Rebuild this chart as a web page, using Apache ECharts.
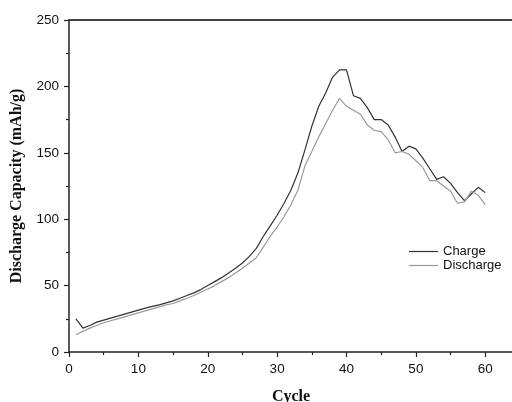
<!DOCTYPE html>
<html>
<head>
<meta charset="utf-8">
<script src="https://cdn.jsdelivr.net/npm/echarts@6/dist/echarts.min.js"></script>
<style>html,body{margin:0;padding:0;background:#fff}#c{width:512px;height:402px}</style>
</head>
<body>
<div id="c"></div>
<script>
var cycles = [];
for (var i = 1; i <= 60; i++) cycles.push(i);
var charge = [25, 18, 20, 22.5, 24, 25.5, 27, 28.5, 30, 31.5,
  33, 34.3, 35.5, 37, 38.5, 40.5, 42.5, 44.5, 47, 50,
  53, 56, 59.5, 63, 67, 72, 78, 87, 95, 103,
  112, 122, 135, 152, 170, 185, 195, 207, 212.5, 212.5,
  193, 191, 184, 175, 175, 171, 162, 151, 155, 153,
  146, 138, 130, 132, 127, 120, 114, 119, 124, 120];
var discharge = [13, 15.5, 18, 20, 22, 23.5, 25, 26.5, 28, 29.5,
  31, 32.5, 34, 35.5, 36.5, 38.5, 40.5, 42.5, 45, 47.5,
  50, 53, 56, 59.5, 63, 67, 71, 79, 87, 94,
  102, 111, 122, 140, 151, 162, 172, 182, 191, 185,
  182, 179, 171, 167, 166, 160, 150, 151, 149, 144,
  139, 129, 129, 125, 121, 112, 113, 121, 118, 111];
var seriesNames = ['Charge', 'Discharge'];
var xTitle = 'Cycle';
var yTitle = 'Discharge Capacity (mAh/g)';

function pairs(arr) { return arr.map(function (v, i) { return [cycles[i], v]; }); }

var chart = echarts.init(document.getElementById('c'), null, {renderer: 'canvas'});
var axisLineStyle = {color: '#222', width: 1.5};
chart.setOption({
  animation: false,
  backgroundColor: '#fff',
  grid: {left: 69, top: 20, right: -1, bottom: 50, containLabel: false, outerBoundsMode: 'none'},
  legend: {
    orient: 'vertical', left: 404, top: 240,
    icon: 'rect', itemWidth: 29, itemHeight: 1.2, itemGap: 1,
    textStyle: {fontFamily: 'Liberation Sans', fontSize: 13, color: '#111'},
    data: seriesNames
  },
  xAxis: [{
    type: 'value', min: 0, max: 64, interval: 10,
    name: xTitle, nameLocation: 'middle', nameGap: 37,
    nameTextStyle: {fontFamily: 'Liberation Serif', fontWeight: 'bold', fontSize: 16, color: '#111'},
    axisLine: {show: true, onZero: false, lineStyle: axisLineStyle},
    axisTick: {show: true, inside: false, length: 5, lineStyle: {color: '#222', width: 1.2}},
    minorTick: {show: true, splitNumber: 2, length: 3, lineStyle: {color: '#222', width: 1.2}},
    axisLabel: {fontFamily: 'Liberation Sans', fontSize: 13.5, color: '#111', margin: 10,
      showMaxLabel: false,
      formatter: function (v) { return v % 10 === 0 ? String(v) : ''; }},
    splitLine: {show: false}
  }, {
    type: 'value', min: 0, max: 64, position: 'top',
    axisLine: {show: true, onZero: false, lineStyle: {color: '#444', width: 2}},
    axisTick: {show: false}, axisLabel: {show: false}, splitLine: {show: false}
  }],
  yAxis: {
    type: 'value', min: 0, max: 250, interval: 50,
    name: yTitle, nameLocation: 'middle', nameGap: 44,
    nameTextStyle: {fontFamily: 'Liberation Serif', fontWeight: 'bold', fontSize: 16, color: '#111'},
    axisLine: {show: true, onZero: false, lineStyle: axisLineStyle},
    axisTick: {show: true, inside: false, length: 5, lineStyle: {color: '#222', width: 1.2}},
    minorTick: {show: true, splitNumber: 2, length: 3, lineStyle: {color: '#222', width: 1.2}},
    axisLabel: {fontFamily: 'Liberation Sans', fontSize: 13.5, color: '#111', margin: 10},
    splitLine: {show: false}
  },
  series: [{
    name: seriesNames[0], type: 'line', data: pairs(charge), xAxisIndex: 0,
    showSymbol: false, symbol: 'none',
    lineStyle: {color: '#333', width: 1.2}, itemStyle: {color: '#333'}
  }, {
    name: seriesNames[1], type: 'line', data: pairs(discharge), xAxisIndex: 0,
    showSymbol: false, symbol: 'none',
    lineStyle: {color: '#9a9a9a', width: 1.2}, itemStyle: {color: '#9a9a9a'}
  }]
});
</script>
</body>
</html>
